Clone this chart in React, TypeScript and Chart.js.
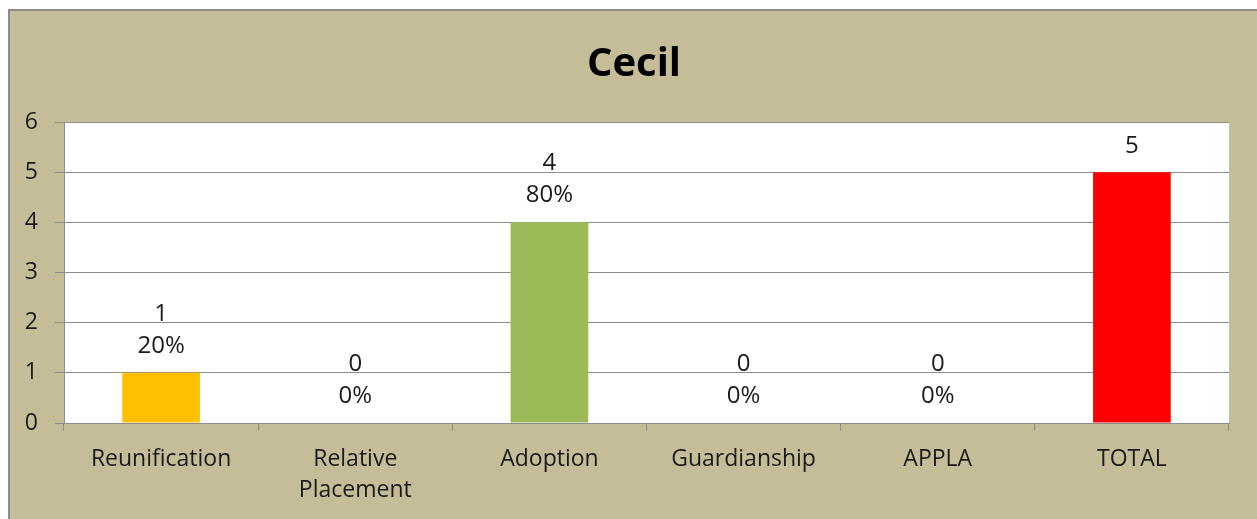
import React, { useEffect, useRef } from "react";
import { Chart, registerables } from "chart.js";

Chart.register(...registerables);

const categories: (string | string[])[] = [
  "Reunification",
  ["Relative", "Placement"],
  "Adoption",
  "Guardianship",
  "APPLA",
  "TOTAL",
];
const values = [1, 0, 4, 0, 0, 5];
const percentLabels = ["20%", "0%", "80%", "0%", "0%", ""];
const barColors = ["#FFC000", "#4F81BD", "#9BBB59", "#8064A2", "#4BACC6", "#FF0000"];
const yTicks = [0, 1, 2, 3, 4, 5, 6];
const titleText = "Cecil";

const FONT = "'Open Sans', 'DejaVu Sans', sans-serif";
const BG = "#C4BD97";
const TEXT_SIZE = 23;
const LABEL_SIZE = 24;

const framePlugin = {
  id: "frame",
  beforeDraw(chart: any) {
    const ctx = chart.ctx;
    ctx.save();
    ctx.fillStyle = "#ffffff";
    ctx.fillRect(0, 0, chart.width, chart.height);
    ctx.fillStyle = BG;
    ctx.fillRect(8, 9, chart.width - 8, chart.height - 9);
    ctx.strokeStyle = "#8c8c8c";
    ctx.lineWidth = 2;
    ctx.beginPath();
    ctx.moveTo(9, chart.height);
    ctx.lineTo(9, 10);
    ctx.lineTo(chart.width, 10);
    ctx.stroke();
    const a = chart.chartArea;
    ctx.fillStyle = "#ffffff";
    ctx.fillRect(a.left, a.top, a.right - a.left, a.bottom - a.top);
    ctx.fillStyle = "#000000";
    ctx.font = `bold 40px ${FONT}`;
    ctx.textAlign = "center";
    ctx.textBaseline = "alphabetic";
    ctx.fillText(titleText, 634, 76);
    ctx.restore();
  },
  afterDatasetsDraw(chart: any) {
    const ctx = chart.ctx;
    const meta = chart.getDatasetMeta(0);
    ctx.save();
    ctx.fillStyle = "#1a1a1a";
    ctx.font = `${LABEL_SIZE}px ${FONT}`;
    ctx.textAlign = "center";
    ctx.textBaseline = "middle";
    meta.data.forEach((bar: any, i: number) => {
      const x = bar.x;
      const top = bar.y;
      const pct = percentLabels[i];
      if (pct) {
        ctx.fillText(pct, x, top - 27);
        ctx.fillText(String(values[i]), x, top - 59);
      } else {
        ctx.fillText(String(values[i]), x, top - 26);
      }
    });
    ctx.restore();
  },
};

export default function App() {
  const ref = useRef<HTMLCanvasElement>(null);
  useEffect(() => {
    document.body.style.overflow = "hidden";
    const chart = new Chart(ref.current!, {
      type: "bar",
      data: {
        labels: categories,
        datasets: [
          {
            data: values,
            backgroundColor: barColors,
            barPercentage: 0.4,
            categoryPercentage: 1,
          },
        ],
      },
      plugins: [framePlugin],
      options: {
        animation: false,
        responsive: false,
        devicePixelRatio: 1,
        layout: { padding: { left: 10, top: 122, right: 28, bottom: 0 } },
        plugins: {
          legend: { display: false },
          tooltip: { enabled: false },
        },
        scales: {
          x: {
            afterFit(scale: any) {
              scale.height = 96;
            },
            grid: {
              offset: true,
              drawOnChartArea: false,
              drawTicks: true,
              tickLength: 8,
              color: "#8c8c8c",
            },
            border: { display: true, color: "#8c8c8c", width: 1 },
            ticks: {
              color: "#1a1a1a",
              font: { family: FONT, size: TEXT_SIZE, lineHeight: 31 / TEXT_SIZE },
              padding: 13,
              maxRotation: 0,
              autoSkip: false,
            },
          },
          y: {
            min: 0,
            max: 6,
            afterFit(scale: any) {
              scale.width = 54;
            },
            afterBuildTicks(scale: any) {
              scale.ticks = yTicks.map((v) => ({ value: v }));
            },
            grid: {
              color: "#8c8c8c",
              tickLength: 9,
              drawTicks: true,
            },
            border: { display: true, color: "#8c8c8c", width: 1 },
            ticks: {
              color: "#1a1a1a",
              font: { family: FONT, size: TEXT_SIZE },
              padding: 17,
            },
          },
        },
      },
    });
    return () => chart.destroy();
  }, []);
  return (
    <div style={{ position: "fixed", left: 0, top: 0, width: 1257, height: 519 }}>
      <canvas ref={ref} width={1257} height={519} style={{ display: "block" }} />
    </div>
  );
}
